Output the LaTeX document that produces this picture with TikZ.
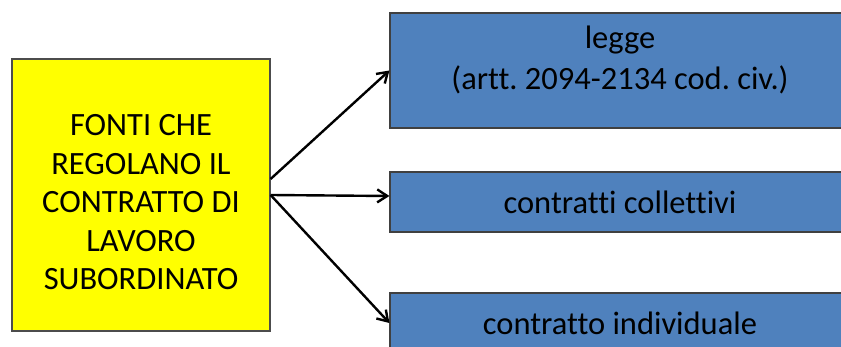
\documentclass[tikz,border=0pt]{standalone}
\usepackage{fontspec}
\setmainfont{Carlito}[Ligatures=NoCommon]
\usepackage{tikz}
\usetikzlibrary{arrows.meta}

\definecolor{boxblue}{HTML}{4F81BD}
\definecolor{boxyellow}{HTML}{FFFF00}

\tikzset{
  yellowbox/.style={draw=black!70, fill=boxyellow, line width=1.2pt, minimum width=258pt, minimum height=272pt, align=center, font=\fontsize{32.5pt}{38.5pt}\selectfont},
  bluebox/.style={draw=black!75, fill=boxblue, line width=1.2pt, minimum width=460pt, align=center, font=\fontsize{32.5pt}{41pt}\selectfont},
  link/.style={-{Straight Barb[length=10pt, width=13pt]}, line width=2.4pt}
}

\frenchspacing

\begin{document}
\begin{tikzpicture}[x=1pt, y=1pt]

\useasboundingbox (0, 0) rectangle (841, -347);

% draw source box
\node[yellowbox, text height=190pt] (fonti) at (141, -195) {FONTI CHE\\REGOLANO IL\\CONTRATTO DI\\LAVORO\\SUBORDINATO};

% draw target boxes
\node[bluebox, minimum height=115pt, text depth=26pt] (legge) at (620, -70.5) {legge\\(artt. 2094-2134 cod. civ.)};
\node[bluebox, minimum height=60pt] (collettivi) at (620, -202) {contratti collettivi};
\node[bluebox, minimum height=60pt] (individuale) at (620, -323) {contratto individuale};

% draw arrows
\draw[link] ([yshift=16pt]fonti.east) -- (legge.west);
\draw[link] (fonti.east) -- ([yshift=6pt]collettivi.west);
\draw[link] (fonti.east) -- (individuale.west);

\end{tikzpicture}
\end{document}
